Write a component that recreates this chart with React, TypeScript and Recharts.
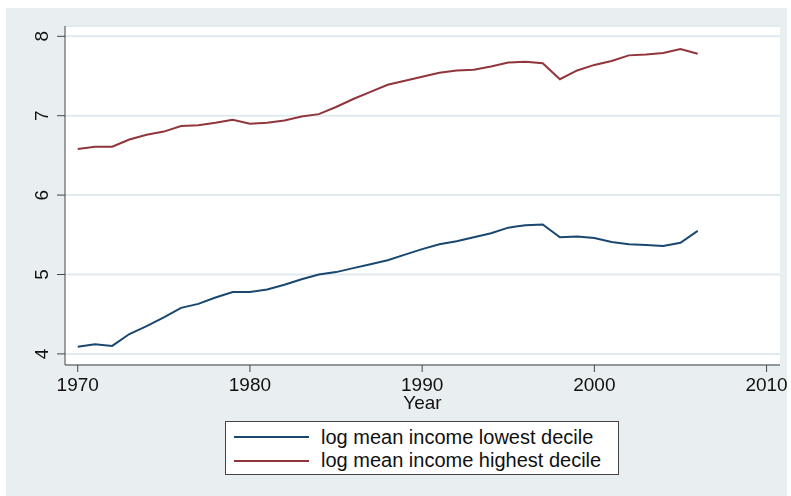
import React from "react";
import { LineChart, Line, XAxis, YAxis, CartesianGrid, Label } from "recharts";

const years = [
  1970, 1971, 1972, 1973, 1974, 1975, 1976, 1977, 1978, 1979, 1980, 1981, 1982,
  1983, 1984, 1985, 1986, 1987, 1988, 1989, 1990, 1991, 1992, 1993, 1994, 1995,
  1996, 1997, 1998, 1999, 2000, 2001, 2002, 2003, 2004, 2005, 2006,
];

const lowestDecile = [
  4.09, 4.12, 4.1, 4.25, 4.35, 4.46, 4.58, 4.63, 4.71, 4.78, 4.78, 4.81, 4.87,
  4.94, 5.0, 5.03, 5.08, 5.13, 5.18, 5.25, 5.32, 5.38, 5.42, 5.47, 5.52, 5.59,
  5.62, 5.63, 5.47, 5.48, 5.46, 5.41, 5.38, 5.37, 5.36, 5.4, 5.55,
];

const highestDecile = [
  6.58, 6.61, 6.61, 6.7, 6.76, 6.8, 6.87, 6.88, 6.91, 6.95, 6.9, 6.91, 6.94,
  6.99, 7.02, 7.11, 7.21, 7.3, 7.39, 7.44, 7.49, 7.54, 7.57, 7.58, 7.62, 7.67,
  7.68, 7.66, 7.46, 7.57, 7.64, 7.69, 7.76, 7.77, 7.79, 7.84, 7.78,
];

const xTicks = [1970, 1980, 1990, 2000, 2010];
const yTicks = [4, 5, 6, 7, 8];

const series = [
  { key: "lowest", name: "log mean income lowest decile", color: "#1a476f" },
  { key: "highest", name: "log mean income highest decile", color: "#90353b" },
];

const data = years.map((year, i) => ({
  year,
  lowest: lowestDecile[i],
  highest: highestDecile[i],
}));

const BG = "#e9eff1";
const FONT = "'Liberation Sans', Arial, sans-serif";

// Stata-style rotated y tick labels
const YTick = (props: any) => {
  const { y, payload } = props;
  return (
    <text
      x={42}
      y={y}
      transform={`rotate(-90 42 ${y})`}
      textAnchor="middle"
      fontSize={19}
      fontFamily={FONT}
      fill="#111"
    >
      {payload.value}
    </text>
  );
};

// x tick labels, baseline placed like the original
const XTick = (props: any) => {
  const { x, payload } = props;
  return (
    <text
      x={x}
      y={383}
      textAnchor="middle"
      fontSize={19}
      fontFamily={FONT}
      fill="#111"
    >
      {payload.value}
    </text>
  );
};

export default function App() {
  // fixed so the panel can reach past the body's right margin
  return (
    <div
      style={{
        position: "fixed",
        left: 6,
        top: 8,
        width: 781,
        height: 488,
        background: BG,
      }}
    >
      <LineChart
        width={784}
        height={488}
        data={data}
        margin={{ top: 18, right: 10, bottom: 0, left: 0 }}
      >
        <CartesianGrid
          vertical={false}
          stroke="#e1eaee"
          strokeWidth={2}
          fill="#ffffff"
        />
        <XAxis
          dataKey="year"
          type="number"
          domain={[1969.26, 2010.78]}
          ticks={xTicks}
          height={131}
          tickSize={7}
          stroke="#444"
          tick={<XTick />}
        >
          <Label
            value="Year"
            position="insideTop"
            offset={31}
            style={{ fontSize: 19, fontFamily: FONT, fill: "#111" }}
          />
        </XAxis>
        <YAxis
          type="number"
          domain={[3.86, 8.13]}
          ticks={yTicks}
          width={59}
          tickSize={8}
          stroke="#444"
          tick={<YTick />}
        />
        {series.map((s) => (
          <Line
            key={s.key}
            type="linear"
            dataKey={s.key}
            name={s.name}
            stroke={s.color}
            strokeWidth={2}
            dot={false}
            isAnimationActive={false}
          />
        ))}
      </LineChart>
      <svg
        width={394}
        height={54}
        style={{ position: "absolute", left: 219, top: 413 }}
      >
        <rect
          x={0.5}
          y={0.5}
          width={393}
          height={53}
          fill="#ffffff"
          stroke="#444"
        />
        {series.map((s, i) => (
          <g key={s.key}>
            <line
              x1={9}
              x2={84}
              y1={16 + i * 24}
              y2={16 + i * 24}
              stroke={s.color}
              strokeWidth={2}
            />
            <text
              x={96}
              y={23 + i * 23}
              fontSize={20}
              fontFamily={FONT}
              fill="#111"
            >
              {s.name}
            </text>
          </g>
        ))}
      </svg>
    </div>
  );
}
